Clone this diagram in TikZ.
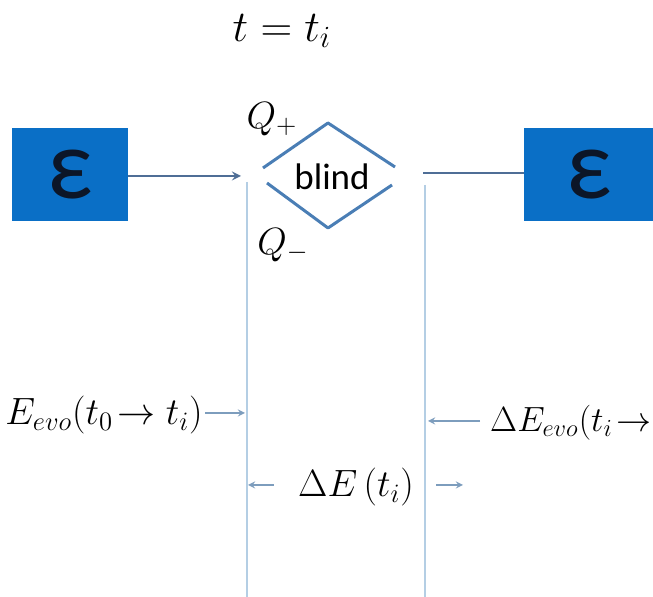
\RequirePackage{fix-cm}
\documentclass[tikz,border=0pt]{standalone}
\usepackage{fontspec}
\newfontfamily\calib{Carlito}
\usetikzlibrary{positioning}
\definecolor{boxblue}{HTML}{0A6FC6}
\definecolor{epsdark}{HTML}{0C1628}
\definecolor{linkblue}{HTML}{4F6E96}
\definecolor{chevblue}{HTML}{4A7EB5}
\definecolor{railblue}{HTML}{B4CEE4}
\definecolor{tipblue}{HTML}{7D9DBD}
\tikzset{
  epsbox/.style={fill=boxblue, draw=none, minimum width=58pt, minimum height=46.5pt, inner sep=0pt,
    text=epsdark, font=\calib\fontsize{50}{50}\selectfont},
  mathlbl/.style={inner sep=1pt, font=\fontsize{19}{22}\selectfont},
  rail/.style={railblue, line width=0.8pt},
  tick/.style={->, tipblue, line width=0.6pt},
}
\begin{document}
\begin{tikzpicture}[x=0.5pt, y=-0.5pt, line join=round, >=stealth]
\clip (0,0) rectangle (653,597);
\useasboundingbox (0,0) rectangle (653,597);
% title
\node[mathlbl, font=\fontsize{22}{26}\selectfont] (title) at (282,31) {$t=t_i$};
% the two boxes
\node[epsbox] (epsL) at (70,174.5) {ε};
\node[epsbox, minimum width=65pt] (epsR) at (589,175) {ε};
% the blind diamond
\node[font=\calib\fontsize{18.5}{20}\selectfont, inner sep=0pt] (blind) at (332,177) {blind};
\coordinate (dTop) at (328,123);
\coordinate (dBot) at (328,228);
\draw[chevblue, line width=1.5pt] (263,168) -- (dTop) -- (395,167);
\draw[chevblue, line width=1.5pt] (267,183) -- (dBot) -- (392,185);
\node[mathlbl] (qplus) at (272,119) {$Q_+$};
\node[mathlbl] (qminus) at (283,245) {$Q_-$};
% rails
\coordinate (railLtop) at (247,182);
\coordinate (railLbot) at (247,597);
\coordinate (railRtop) at (425,185);
\coordinate (railRbot) at (425,597);
\draw[rail] (railLtop) -- (railLbot);
\draw[rail] (railRtop) -- (railRbot);
% box connectors
\coordinate (inL) at (241,176);
\coordinate (outR) at (423,173);
\draw[->, linkblue, line width=1pt] (epsL.east |- inL) -- (inL);
\draw[linkblue, line width=1pt] (outR) -- (epsR.west |- outR);
% energy labels
\node[mathlbl, anchor=east] (eevo) at (205,415) {$E_{evo}(t_0\!\rightarrow t_i)$};
\coordinate (eevoTip) at (245,413);
\draw[tick] (eevo.east |- eevoTip) -- (eevoTip);
\node[mathlbl, font=\fontsize{17.5}{20}\selectfont, anchor=east, inner sep=0pt] (devo) at (652,423) {$\Delta E_{evo}(t_i\!\rightarrow$};
\coordinate (devoTip) at (428,421);
\draw[tick] (480,421) -- (devoTip);
\node[mathlbl] (dE) at (356,487) {$\Delta E\,(t_i)$};
\coordinate (dEl) at (248,485);
\coordinate (dEr) at (463,485);
\draw[tick] (dE.west |- dEl) ++(-22,0) -- (dEl);
\draw[tick] (dE.east |- dEr) ++(20,0) -- (dEr);
\end{tikzpicture}
\end{document}
